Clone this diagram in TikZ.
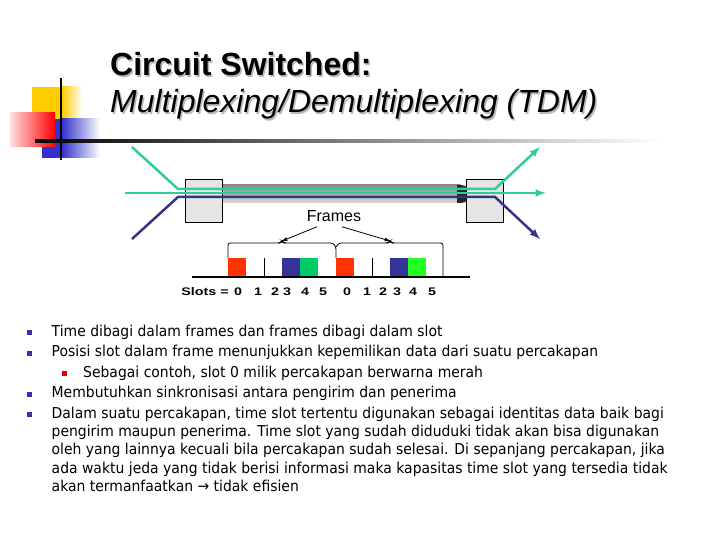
\documentclass[tikz,border=0pt]{standalone}
\usepackage{fontspec}
\setmainfont{Liberation Sans}
\newfontfamily\bodyfont[FakeStretch=0.93]{DejaVu Sans}
\usetikzlibrary{calc,arrows}

\definecolor{slotred}{HTML}{FF3300}
\definecolor{slotblue}{HTML}{333399}
\definecolor{slotgreen}{HTML}{00CC66}
\definecolor{slotlime}{HTML}{22FF22}
\definecolor{linkteal}{HTML}{33CC99}
\definecolor{linknavy}{HTML}{333388}
\definecolor{decoyellow}{HTML}{FFCC00}
\definecolor{decoblue}{HTML}{3333CC}
\definecolor{bulletblue}{HTML}{3333AA}

\tikzset{
  swbox/.style={draw=black, fill=gray!20, minimum width=37pt, minimum height=43pt, inner sep=0pt},
  tealline/.style={linkteal, line width=2.5pt},
  navyline/.style={linknavy, line width=2.5pt},
  titlebold/.style={anchor=base west, inner sep=0pt, font=\bfseries\fontsize{32}{38}\selectfont},
  titleital/.style={anchor=base west, inner sep=0pt, font=\itshape\fontsize{32}{38}\selectfont},
  bodytext/.style={anchor=base west, inner sep=0pt, font=\bodyfont\fontsize{15}{18}\selectfont},
  slotlabel/.style={anchor=base, inner sep=0pt, font=\bfseries\fontsize{11}{13}\selectfont},
  bulletsq/.style={fill=bulletblue, minimum size=5pt, inner sep=0pt},
}

\begin{document}
\begin{tikzpicture}[x=1pt, y=-1pt, >=latex]
  \useasboundingbox (0,0) rectangle (720,540);

  % Corner decoration of the slide
  \fill[decoyellow] (32,87) rectangle (62,120);
  \shade[left color=decoyellow, right color=white] (62,87) rectangle (82,120);
  \fill[decoblue] (42,119) rectangle (62,158);
  \shade[left color=decoblue, right color=white] (62,119) rectangle (100,158);
  \shade[left color=red!12, right color=red] (10,113) rectangle (55,147);
  \draw[line width=2pt] (61,78) -- (61,160);
  \shade[left color=black, middle color=gray!70, right color=white] (35,140) rectangle (660,142.2);

  % Title with its drop shadow
  \node[titlebold, text=gray!55] at (111.5,77.5) {Circuit Switched:};
  \node[titlebold] (title) at (110,76) {Circuit Switched:};
  \node[titleital, text=gray!55] at (111.5,114.5) {Multiplexing/Demultiplexing (TDM)};
  \node[titleital] (subtitle) at (110,113) {Multiplexing/Demultiplexing (TDM)};

  % Shared link between the two switches
  \shade[top color=gray!90, bottom color=gray!30] (222,185) rectangle (460,203);
  \fill[black!85] (457,185) -- (461,185) arc[start angle=-90, end angle=90, radius=9] -- (457,203) -- cycle;
  \node[swbox] (muxL) at (203.5,200.5) {};
  \node[swbox] (muxR) at (485,200.5) {};

  \coordinate (tealInA) at (132,147);
  \coordinate (tealInB) at (125,193);
  \coordinate (navyIn) at (132,239);
  \coordinate (mergeTop) at (178,189);
  \coordinate (mergeBot) at (178,197);
  \coordinate (splitTop) at (495,189);
  \coordinate (splitBot) at (495,197);
  \coordinate (tealOutA) at (540,147);
  \coordinate (tealOutB) at (546,193);
  \coordinate (navyOut) at (540,239);

  \draw[tealline,->] (tealInA) -- (mergeTop) -- (splitTop) -- (tealOutA);
  \draw[tealline,->] (tealInB) -- (tealOutB);
  \draw[navyline,->] (navyIn) -- (mergeBot) -- (splitBot) -- (navyOut);

  % Frames and their brackets
  \node[inner sep=1pt, font=\fontsize{16}{19}\selectfont] (frames) at (334,216) {Frames};
  \coordinate (peakL) at (282,241);
  \coordinate (peakR) at (390,241);
  \draw[->, thick] ($(frames.south)+(-17,4)$) -- (peakL);
  \draw[->, thick] ($(frames.south)+(8,4)$) -- (peakR);

  \draw[thick, rounded corners=2.5pt] (228,258) -- (228,243) -- (280,243) -- (peakL) -- (284,243)
    -- (333,243) -- (336,247) -- (336,258);
  \draw[thick, rounded corners=2.5pt] (336,247) -- (339,243) -- (388,243) -- (peakR) -- (392,243)
    -- (443,243) -- (443,277);

  % Slots of each frame
  \foreach \fx/\gc in {228/slotgreen, 336/slotlime}{
    \fill[slotred] (\fx,258) rectangle ++(18,19);
    \fill[slotblue] (\fx+54,258) rectangle ++(18,19);
    \fill[\gc] (\fx+72,258) rectangle ++(18,19);
    \draw[thick] (\fx+36,258) -- ++(0,19);
  }
  \draw[line width=1.5pt] (192,277) -- (470,277);

  \node[slotlabel] (slotsLabel) at (205,295) {\scalebox{1.3}[1]{Slots =}};
  \foreach \sx/\sl in {238/0, 258/1, 275/2, 287/3, 305/4, 323/5, 347/0, 367/1, 383/2, 397/3, 413/4, 432/5}
    \node[slotlabel] (slot-\sx) at (\sx,295) {\scalebox{1.3}[1]{\sl}};

  % Bullet list
  \foreach \by in {332.5, 353, 394, 414.5}
    \node[bulletsq] (bul-\by) at (29.5,\by) {};
  \node[bulletsq, fill=red!90!black] (subbul) at (64.5,373.5) {};

  \node[bodytext] (item1) at (51.5,336) {Time dibagi dalam frames dan frames dibagi dalam slot};
  \node[bodytext] (item2) at (51.5,356.5) {Posisi slot dalam frame menunjukkan kepemilikan data dari suatu percakapan};
  \node[bodytext] (sub1) at (83,377) {Sebagai contoh, slot 0 milik percakapan berwarna merah};
  \node[bodytext] (item3) at (51.5,397.5) {Membutuhkan sinkronisasi antara pengirim dan penerima};
  \node[bodytext] (item4a) at (51.5,418) {Dalam suatu percakapan, time slot tertentu digunakan sebagai identitas data baik bagi};
  \node[bodytext] (item4b) at (51.5,436.3) {pengirim maupun penerima. Time slot yang sudah diduduki tidak akan bisa digunakan};
  \node[bodytext] (item4c) at (51.5,454.6) {oleh yang lainnya kecuali bila percakapan sudah selesai. Di sepanjang percakapan, jika};
  \node[bodytext] (item4d) at (51.5,473) {ada waktu jeda yang tidak berisi informasi maka kapasitas time slot yang tersedia tidak};
  \node[bodytext] (item4e) at (51.5,491.3) {akan termanfaatkan → tidak efisien};
\end{tikzpicture}
\end{document}
